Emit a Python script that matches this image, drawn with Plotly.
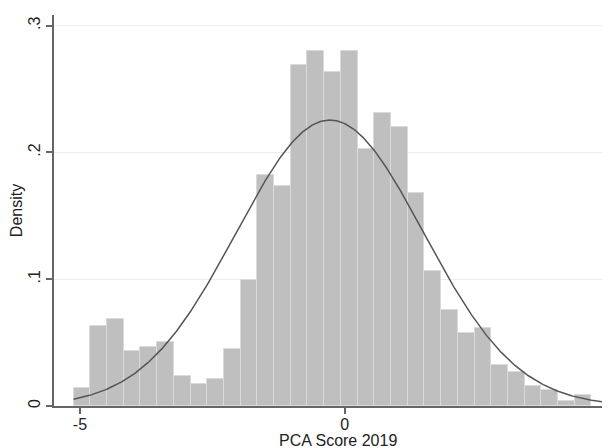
import numpy as np
import plotly.graph_objects as go

# Histogram bins (Stata-style density histogram)
bin_start = -5.12
bin_width = 0.3155
densities = [0.0142, 0.0629, 0.0684, 0.0432, 0.0466, 0.0505, 0.0234, 0.0177,
             0.0216, 0.0450, 0.0992, 0.1824, 0.1737, 0.2687, 0.2798, 0.2634,
             0.2798, 0.2024, 0.2308, 0.2203, 0.1679, 0.1063, 0.0755, 0.0576,
             0.0616, 0.0327, 0.0268, 0.0161, 0.0124, 0.0037, 0.0090]

# Fitted normal overlay parameters
norm_mean = -0.28
norm_sd = 1.769
curve_x_min = -5.12
curve_x_max = 5.02

x_ticks = [-5, 0, 5]
x_ticklabels = ["-5", "0", "5"]
y_ticks = [0, 0.1, 0.2, 0.3]
y_ticklabels = ["0", ".1", ".2", ".3"]
x_title = "PCA Score 2019"
y_title = "Density"

centers = [bin_start + (i + 0.5) * bin_width for i in range(len(densities))]
xc = np.linspace(curve_x_min, curve_x_max, 400)
yc = np.exp(-0.5 * ((xc - norm_mean) / norm_sd) ** 2) / (norm_sd * np.sqrt(2 * np.pi))

fig = go.Figure()
fig.add_trace(go.Bar(
    x=centers, y=densities, width=bin_width,
    marker=dict(color="#bfbfbf", line=dict(color="#dadada", width=1)),
    hoverinfo="skip",
))
fig.add_trace(go.Scatter(
    x=xc, y=yc, mode="lines",
    line=dict(color="#555555", width=1.5),
    hoverinfo="skip",
    cliponaxis=False,
))

font_family = "Liberation Sans, Arial, sans-serif"
# page body has an 8px margin; plot area is placed so it ends at the window's right edge
fig.update_layout(
    width=610, height=440,
    margin=dict(l=46, r=8, t=7, b=42),
    paper_bgcolor="white", plot_bgcolor="white",
    showlegend=False, bargap=0,
    font=dict(family=font_family, size=16, color="#222222"),
    annotations=[dict(
        text=x_title, xref="paper", yref="paper", x=0.511, y=0,
        xanchor="center", yanchor="top", yshift=-24, showarrow=False,
        font=dict(size=16, color="#222222"),
    )],
)
fig.update_xaxes(
    range=[-5.49, 5.01], tickvals=x_ticks, ticktext=x_ticklabels,
    showgrid=False, zeroline=False,
    showline=True, linecolor="#666666", linewidth=1.5,
    ticks="outside", ticklen=6, tickcolor="#666666", tickwidth=1.5,
    tickfont=dict(size=16), ticklabeloverflow="allow", ticklabelstandoff=-3,
    automargin=False,
)
fig.update_yaxes(
    range=[0, 0.3084], tickvals=y_ticks, ticktext=y_ticklabels,
    showgrid=True, gridcolor="#eeeeee", gridwidth=1, zeroline=False,
    showline=True, linecolor="#666666", linewidth=1.5,
    ticks="outside", ticklen=6, tickcolor="#666666", tickwidth=1.5,
    tickangle=-90, tickfont=dict(size=16),
    title=dict(text=y_title, font=dict(size=16), standoff=6),
    automargin=False,
)

fig.write_html("out.html")
